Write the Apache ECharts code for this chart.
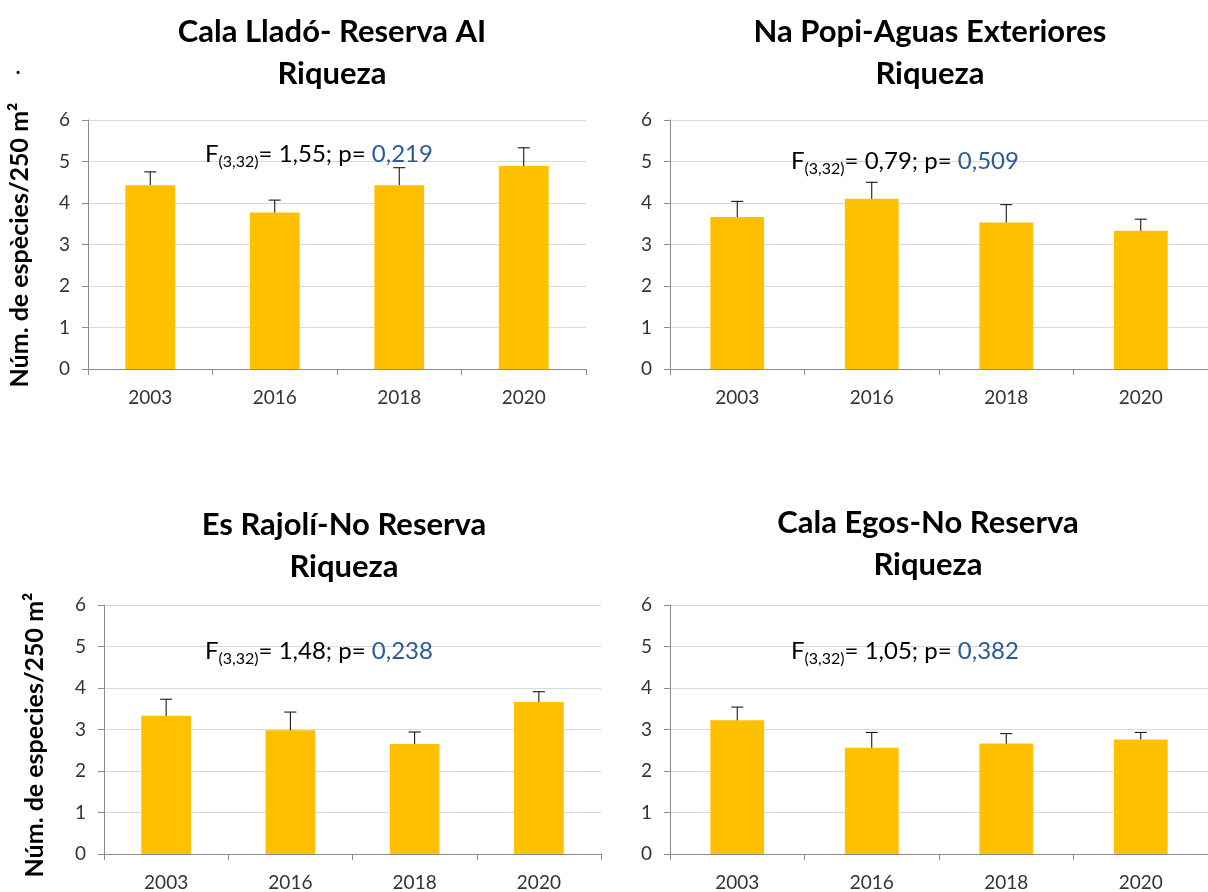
<!DOCTYPE html>
<html>
<head>
<meta charset="utf-8">
<script src="https://cdn.jsdelivr.net/npm/echarts@6/dist/echarts.min.js"></script>
<style>
  html, body { margin: 0; padding: 0; background: #fff; }
  #main { width: 1208px; height: 892px; }
</style>
</head>
<body>
<div id="main"></div>
<script>
// 数据
var years = ['2003', '2016', '2018', '2020'];
var yTicks = [0, 6, 1]; // min, max, interval

// Cala Lladó
var lladoMean = [4.43, 3.77, 4.43, 4.89];
var lladoErr = [0.32, 0.30, 0.42, 0.44];
// Na Popi
var popiMean = [3.66, 4.10, 3.53, 3.33];
var popiErr = [0.38, 0.40, 0.43, 0.28];
// Es Rajolí
var rajoliMean = [3.33, 2.98, 2.65, 3.66];
var rajoliErr = [0.40, 0.44, 0.29, 0.25];
// Cala Egos
var egosMean = [3.22, 2.56, 2.66, 2.76];
var egosErr = [0.32, 0.37, 0.24, 0.17];

var titles = ['Cala Lladó- Reserva AI', 'Na Popi-Aguas Exteriores', 'Es Rajolí-No Reserva', 'Cala Egos-No Reserva'];
var fValues = ['1,55', '0,79', '1,48', '1,05'];
var pValues = ['0,219', '0,509', '0,238', '0,382'];

var FONT = 'Lato, "Open Sans", sans-serif';

var myChart = echarts.init(document.getElementById('main'));

// 四个面板的位置
var panels = [
  {left: 88, top: 120, width: 498, height: 249, cx: 332, ty: 32, fx: 205, fy: 140},
  {left: 670, top: 120, width: 547, height: 249, cx: 930, ty: 32, fx: 791, fy: 147},
  {left: 104, top: 605, width: 497, height: 250, cx: 344, ty: 525, fx: 205, fy: 637},
  {left: 670, top: 605, width: 547, height: 250, cx: 928, ty: 523, fx: 791, fy: 637}
];
var means = [lladoMean, popiMean, rajoliMean, egosMean];
var errs = [lladoErr, popiErr, rajoliErr, egosErr];

var grids = [], xAxes = [], yAxes = [], series = [], graphics = [];

panels.forEach(function (p, k) {
  grids.push({left: p.left, top: p.top, width: p.width, height: p.height});
  xAxes.push({
    type: 'category',
    gridIndex: k,
    data: years,
    axisLine: {lineStyle: {color: '#8c8c8c', width: 1}},
    axisTick: {show: true, length: 6, lineStyle: {color: '#8c8c8c'}},
    axisLabel: {color: '#333', fontSize: 19, fontFamily: FONT, margin: 19}
  });
  yAxes.push({
    type: 'value',
    gridIndex: k,
    min: yTicks[0],
    max: yTicks[1],
    interval: yTicks[2],
    axisLine: {show: true, lineStyle: {color: '#8c8c8c', width: 1}},
    axisTick: {show: true, length: 6, lineStyle: {color: '#8c8c8c'}},
    axisLabel: {color: '#333', fontSize: 19, fontFamily: FONT, margin: 18},
    splitLine: {lineStyle: {color: '#d9d9d9', width: 1}}
  });
  series.push({
    type: 'bar',
    xAxisIndex: k,
    yAxisIndex: k,
    data: means[k],
    barWidth: '40%',
    itemStyle: {color: '#ffc000'},
    silent: true
  });
  // 误差线
  series.push({
    type: 'custom',
    xAxisIndex: k,
    yAxisIndex: k,
    data: means[k].map(function (m, i) { return [i, m, errs[k][i]]; }),
    encode: {x: 0, y: 1},
    z: 5,
    renderItem: function (params, api) {
      var base = api.coord([api.value(0), api.value(1)]);
      var top = api.coord([api.value(0), api.value(1) + api.value(2)]);
      var style = {stroke: '#000', lineWidth: 1};
      return {
        type: 'group',
        children: [
          {type: 'line', shape: {x1: base[0], y1: base[1], x2: top[0], y2: top[1]}, style: style},
          {type: 'line', shape: {x1: top[0] - 6, y1: top[1], x2: top[0] + 6, y2: top[1]}, style: style}
        ]
      };
    }
  });
  // 标题
  graphics.push({
    type: 'text', x: p.cx, y: p.ty,
    style: {text: titles[k], font: 'bold 31px ' + FONT, fill: '#000',
      textAlign: 'center', textVerticalAlign: 'middle', align: 'center', verticalAlign: 'middle'}
  });
  graphics.push({
    type: 'text', x: p.cx, y: p.ty + 42,
    style: {text: 'Riqueza', font: 'bold 31px ' + FONT, fill: '#000',
      textAlign: 'center', textVerticalAlign: 'middle', align: 'center', verticalAlign: 'middle'}
  });
  // F 统计
  graphics.push({
    type: 'text', x: p.fx, y: p.fy - 2,
    z: 10,
    style: {
      text: '{a|F}{s|(3,32)}{a|= ' + fValues[k] + '; p= }{b|' + pValues[k] + '}',
      rich: {
        a: {fontSize: 24, fontFamily: FONT, fill: '#000', color: '#000', lineHeight: 32, verticalAlign: 'middle'},
        s: {fontSize: 16, fontFamily: FONT, fill: '#000', color: '#000', lineHeight: 32, padding: [15, 0, 0, 0], verticalAlign: 'middle'},
        b: {fontSize: 24, fontFamily: FONT, fill: '#2c5a96', color: '#2c5a96', lineHeight: 32, verticalAlign: 'middle'}
      }
    }
  });
});

// Y 轴标题
graphics.push({
  type: 'text', x: 20, y: 245, rotation: Math.PI / 2,
  style: {text: 'Núm. de espècies/250 m²', font: 'bold 25px ' + FONT, fill: '#000',
    textAlign: 'center', textVerticalAlign: 'middle', align: 'center', verticalAlign: 'middle'}
});
graphics.push({
  type: 'text', x: 35, y: 735, rotation: Math.PI / 2,
  style: {text: 'Núm. de especies/250 m²', font: 'bold 25px ' + FONT, fill: '#000',
    textAlign: 'center', textVerticalAlign: 'middle', align: 'center', verticalAlign: 'middle'}
});
graphics.push({
  type: 'text', x: 18, y: 58,
  style: {text: '.', font: 'bold 20px ' + FONT, fill: '#000', textAlign: 'center', align: 'center'}
});

var option = {
  backgroundColor: '#ffffff',
  animation: false,
  grid: grids,
  xAxis: xAxes,
  yAxis: yAxes,
  series: series,
  graphic: {elements: graphics}
};

myChart.setOption(option);
</script>
</body>
</html>
